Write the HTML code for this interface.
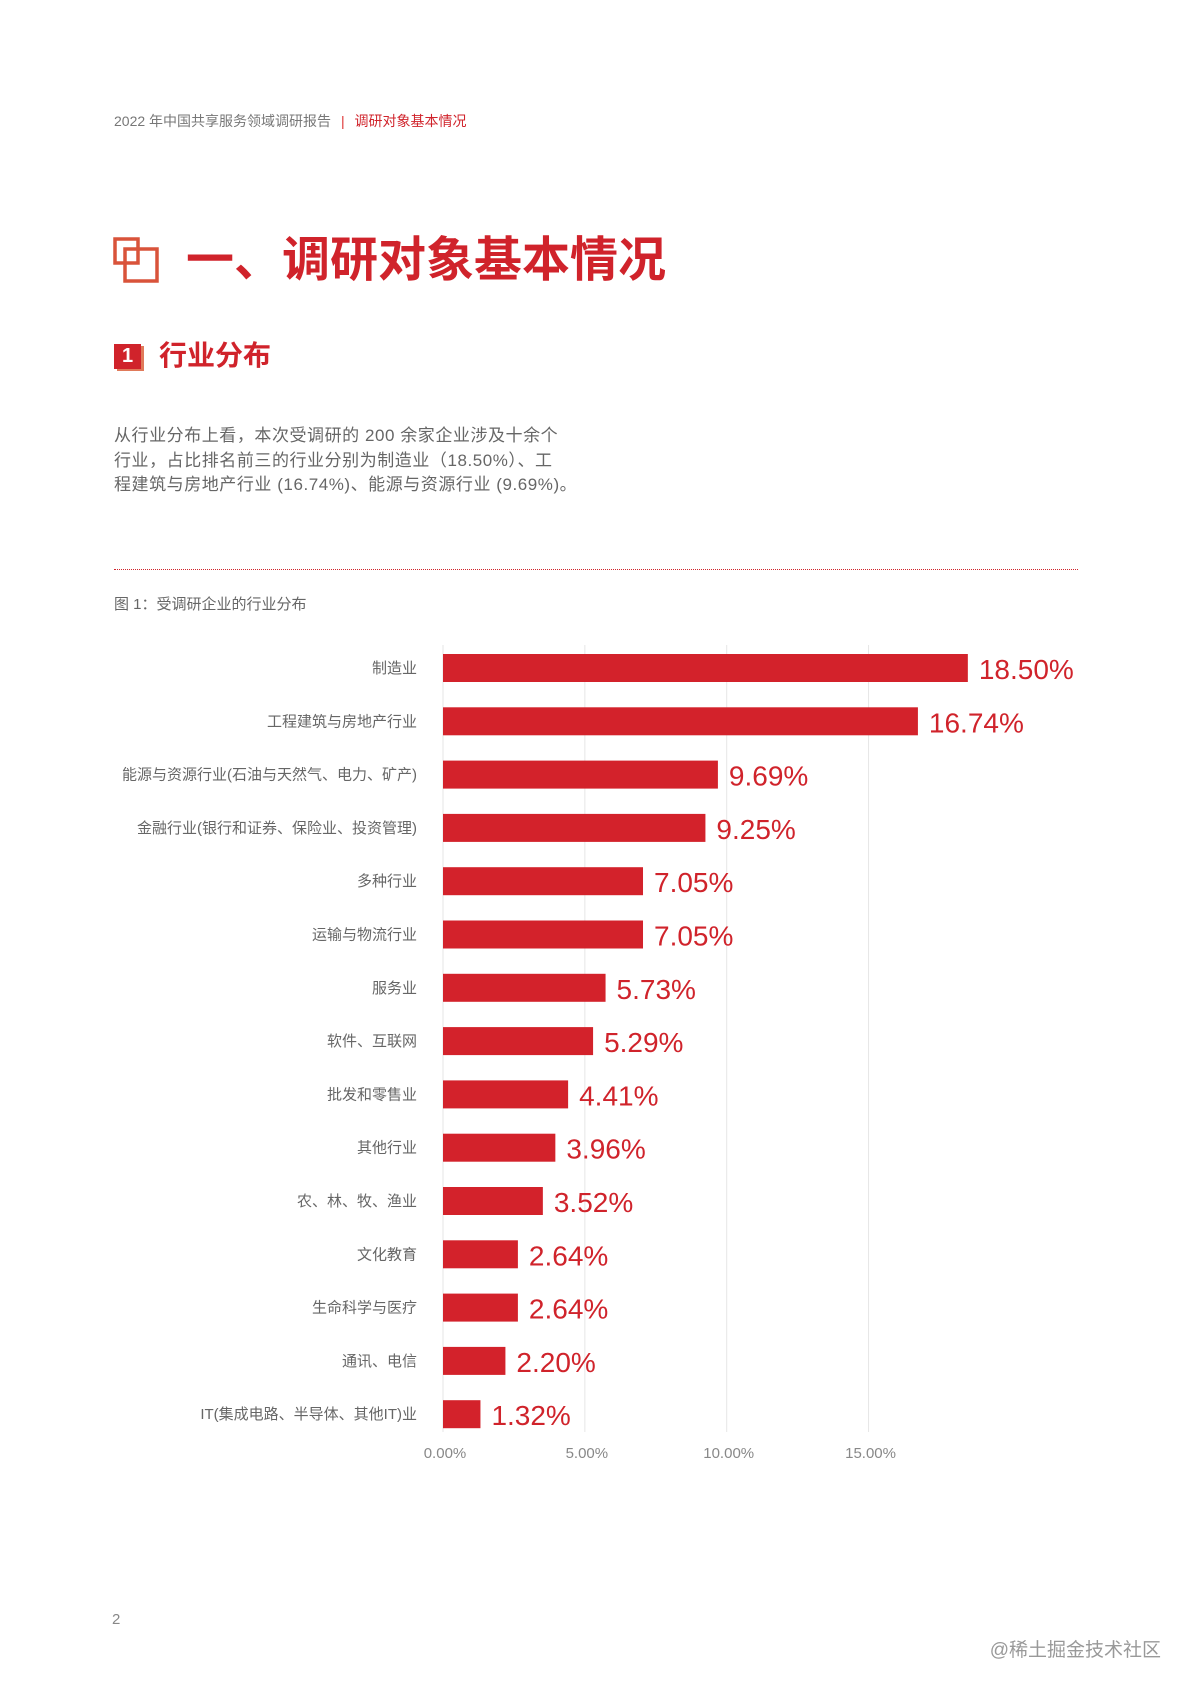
<!DOCTYPE html>
<html><head><meta charset="utf-8">
<style>
body{margin:0;width:1191px;height:1684px;background:#fff;position:relative;overflow:hidden;font-family:"Liberation Sans","Noto Sans CJK SC",sans-serif;}
.abs{position:absolute;white-space:nowrap;}
</style></head><body>
<div class="abs" style="left:114px;top:111px;font-size:14px;color:#777;">2022 年中国共享服务领域调研报告 <span style="color:#d33;margin:0 6px;">|</span> <span style="color:#d0232b;">调研对象基本情况</span></div>

<svg class="abs" style="left:112px;top:236px;" width="50" height="50">
<rect x="3" y="3" width="23" height="24" fill="none" stroke="#d9533a" stroke-width="3.5"/>
<rect x="13" y="13" width="32" height="32" fill="none" stroke="#d9533a" stroke-width="3.5"/>
</svg>
<div class="abs" style="left:186px;top:232px;font-size:48px;font-weight:bold;color:#d0232b;line-height:58px;">一、调研对象基本情况</div>

<div class="abs" style="left:114px;top:344px;width:27px;height:25px;background:#d0232b;color:#fff;font-weight:bold;font-size:20px;text-align:center;line-height:25px;box-shadow:3px 2px 0 #e07a5a;">1</div>
<div class="abs" style="left:159px;top:338px;font-size:28px;font-weight:bold;color:#d0232b;line-height:36px;">行业分布</div>

<div class="abs" style="left:114px;top:424px;font-size:17px;color:#666;line-height:24.5px;letter-spacing:0.55px;">从行业分布上看，本次受调研的 200 余家企业涉及十余个<br>行业，占比排名前三的行业分别为制造业（18.50%）、工<br>程建筑与房地产行业 (16.74%)、能源与资源行业 (9.69%)。</div>

<div class="abs" style="left:114px;top:569px;width:964px;border-top:1.5px dotted #d0232b;"></div>
<div class="abs" style="left:114px;top:593px;font-size:15px;color:#666;">图 1：受调研企业的行业分布</div>

<svg class="abs" id="chart" style="left:0;top:0;" width="1191" height="1684"></svg>

<div class="abs" style="left:112px;top:1611px;font-size:15px;color:#888;">2</div>
<div class="abs" style="right:30px;top:1635px;font-size:19px;color:#999;">@稀土掘金技术社区</div>

<script>
const categories=["制造业","工程建筑与房地产行业","能源与资源行业(石油与天然气、电力、矿产)","金融行业(银行和证券、保险业、投资管理)","多种行业","运输与物流行业","服务业","软件、互联网","批发和零售业","其他行业","农、林、牧、渔业","文化教育","生命科学与医疗","通讯、电信","IT(集成电路、半导体、其他IT)业"];
const values=[18.50,16.74,9.69,9.25,7.05,7.05,5.73,5.29,4.41,3.96,3.52,2.64,2.64,2.20,1.32];
const ticks=[0,5,10,15];
const tickLabels=["0.00%","5.00%","10.00%","15.00%"];
const NS="http://www.w3.org/2000/svg";
const svg=document.getElementById('chart');
const x0=443,pxPer=28.37,y0=668,step=53.3,bh=28;
const xs=v=>x0+v*pxPer;
const ys=i=>y0+i*step;
function mk(t,a){const e=document.createElementNS(NS,t);for(const k in a)e.setAttribute(k,a[k]);svg.appendChild(e);return e;}
ticks.forEach((t,i)=>{
 const g=mk('line',{x1:xs(t),x2:xs(t),y1:645,y2:1432,stroke:'#e6e6e6','stroke-width':1});
 
 
 const l=mk('text',{x:xs(t)+2,y:1458,'text-anchor':'middle','font-size':15,fill:'#888'});
 l.textContent=tickLabels[i];
 
 
});
values.forEach((v,i)=>{
 const b=mk('rect',{x:x0,y:ys(i)-bh/2,width:xs(v)-x0,height:bh,fill:'#d3222b'});
 
 
 const c=mk('text',{x:417,y:ys(i)+5,'text-anchor':'end','font-size':15,fill:'#666'});
 c.textContent=categories[i];
 
 
 const t=mk('text',{x:xs(v)+11,y:ys(i)+11,'font-size':28,fill:'#d0232b'});
 t.textContent=v.toFixed(2)+'%';
 
 
});
</script>
</body></html>
